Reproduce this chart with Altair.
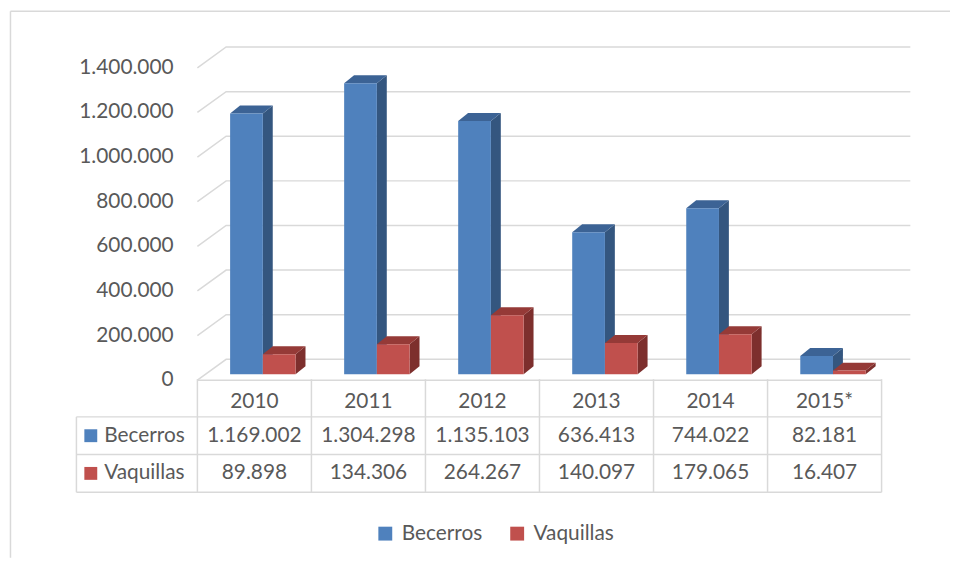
import altair as alt
import pandas as pd

# ---------------- data ----------------
years = ["2010", "2011", "2012", "2013", "2014", "2015*"]
becerros = [1169002, 1304298, 1135103, 636413, 744022, 82181]
vaquillas = [89898, 134306, 264267, 140097, 179065, 16407]
series = ["Becerros", "Vaquillas"]
y_ticks = [0, 200000, 400000, 600000, 800000, 1000000, 1200000, 1400000]


def fmt(n):
    return f"{n:,}".replace(",", ".")


# ---------------- style / layout constants ----------------
W, H = 950, 552
CAT_PX = 115.0              # px per category
CAT0_PX = 191.0             # view x of category 0 left edge
ZERO_PX = 373.0             # view y of value 0 (front plane)
PX_PER_UNIT = 225e-6        # px per head of cattle
ROW0_PX = 372.0             # view y of table top
ROW_PX = 38.0               # px per table row

X_DOM = [(0 - CAT0_PX) / CAT_PX, (W - CAT0_PX) / CAT_PX]
Y_DOM = [-(H - ZERO_PX) / PX_PER_UNIT, ZERO_PX / PX_PER_UNIT]
R_DOM = [(H - ROW0_PX) / ROW_PX, -ROW0_PX / ROW_PX]

WALL_DX = 29 / CAT_PX
WALL_DY = 21 / PX_PER_UNIT
BAR_BASE = 6 / PX_PER_UNIT
BAR_DX = 10 / CAT_PX
BAR_DY = 8 / PX_PER_UNIT
BAR_START = 33 / CAT_PX
BAR_W = 33 / CAT_PX

FONT = "Lato"
TXT = "#595959"
GRID = "#D9D9D9"
FRONT = ["#4F81BD", "#C0504D"]
SIDE = ["#34567F", "#7D2F2D"]
TOP = ["#3C6395", "#953A37"]

xs = alt.Scale(domain=X_DOM, nice=False, zero=False)
ys = alt.Scale(domain=Y_DOM, nice=False, zero=False)
rs = alt.Scale(domain=R_DOM, nice=False, zero=False)


def X(f):
    return alt.X(f, type="quantitative", scale=xs, axis=None)


def Y(f):
    return alt.Y(f, type="quantitative", scale=ys, axis=None, stack=None)


def R(f):
    return alt.Y(f, type="quantitative", scale=rs, axis=None)


def colour(rng, legend=None):
    return alt.Color("serie:N", scale=alt.Scale(domain=series, range=rng), legend=legend)


# ---------------- geometry from data ----------------
front_rows, side_rows, top_rows = [], [], []
for i, yr in enumerate(years):
    for s, (name, vals) in enumerate(zip(series, [becerros, vaquillas])):
        v = vals[i]
        bid = f"{yr}-{name}"
        x0 = i + BAR_START + s * BAR_W
        x1 = x0 + BAR_W
        lo, hi = BAR_BASE, BAR_BASE + v
        front_rows.append(dict(bar=bid, serie=name, x0=x0, x1=x1, lo=lo, hi=hi))
        side_rows += [
            dict(bar=bid, serie=name, u=x1, lo=lo, hi=hi),
            dict(bar=bid, serie=name, u=x1 + BAR_DX, lo=lo + BAR_DY, hi=hi + BAR_DY),
        ]
        top_rows += [
            dict(bar=bid, serie=name, u=x0, lo=hi, hi=hi),
            dict(bar=bid, serie=name, u=x0 + BAR_DX, lo=hi, hi=hi + BAR_DY),
            dict(bar=bid, serie=name, u=x1, lo=hi, hi=hi + BAR_DY),
            dict(bar=bid, serie=name, u=x1 + BAR_DX, lo=hi + BAR_DY, hi=hi + BAR_DY),
        ]
front_df = pd.DataFrame(front_rows)
side_df = pd.DataFrame(side_rows)
top_df = pd.DataFrame(top_rows)

grid_rows = []
n = len(years)
for t in y_ticks:
    grid_rows += [
        dict(t=t, u=0, v=t, o=0),
        dict(t=t, u=WALL_DX, v=t + WALL_DY, o=1),
        dict(t=t, u=n + WALL_DX, v=t + WALL_DY, o=2),
    ]
grid_df = pd.DataFrame(grid_rows)

ylab_df = pd.DataFrame(dict(v=y_ticks, label=[fmt(t) for t in y_ticks], u=-24 / CAT_PX))

# table
LEG_COL = -122 / CAT_PX
hdr_df = pd.DataFrame(dict(u=[i + 0.5 for i in range(n)], r=0.5, label=years))
val_rows = []
for s, (name, vals) in enumerate(zip(series, [becerros, vaquillas])):
    for i, v in enumerate(vals):
        val_rows.append(dict(u=i + 0.5, r=s + 1.5, label=fmt(v)))
val_df = pd.DataFrame(val_rows)
rowlab_df = pd.DataFrame(dict(serie=series, r=[1.5, 2.5], u=-94 / CAT_PX, us=-107.5 / CAT_PX))

vlines = pd.DataFrame(
    dict(u=[LEG_COL] + list(range(n + 1)), r0=[1] + [0] * (n + 1), r1=[3] * (n + 2))
)
hlines = pd.DataFrame(dict(r=[1, 2, 3], u0=LEG_COL, u1=n))
floor_df = pd.DataFrame(dict(u0=[0], u1=[n], v=[0]))

border_l = pd.DataFrame(dict(u=[(2.5 - CAT0_PX) / CAT_PX], v0=[Y_DOM[0]], v1=[(ZERO_PX - 1) / PX_PER_UNIT]))
border_t = pd.DataFrame(dict(u0=[(2.5 - CAT0_PX) / CAT_PX], u1=[X_DOM[1]], v=[(ZERO_PX - 1) / PX_PER_UNIT]))

# ---------------- layers ----------------
border_left = alt.Chart(border_l).mark_rule(color=GRID, strokeWidth=1.5).encode(
    x=X("u"), y=Y("v0"), y2="v1")
border_top = alt.Chart(border_t).mark_rule(color=GRID, strokeWidth=1.5).encode(
    x=X("u0"), x2="u1", y=Y("v"))

grid = alt.Chart(grid_df).mark_line(color=GRID, strokeWidth=1.5).encode(
    x=X("u"), y=Y("v"), detail="t:N", order="o:Q")

floor = alt.Chart(floor_df).mark_rule(color=GRID, strokeWidth=1.5).encode(
    x=X("u0"), x2="u1", y=Y("v"))

side = alt.Chart(side_df).mark_area(opacity=1, orient="vertical").encode(
    x=X("u"), y=Y("lo"), y2="hi", detail="bar:N", color=colour(SIDE))

top = alt.Chart(top_df).mark_area(opacity=1, orient="vertical").encode(
    x=X("u"), y=Y("lo"), y2="hi", detail="bar:N", color=colour(TOP))

legend = alt.Legend(
    orient="none", legendX=370, legendY=517, direction="horizontal", title=None,
    symbolType="square", symbolSize=196, symbolStrokeWidth=0, symbolOpacity=1,
    labelFontSize=21, labelFont=FONT, labelColor=TXT, labelOffset=6,
    columnPadding=24, padding=0,
)
front = alt.Chart(front_df).mark_rect(opacity=1).encode(
    x=X("x0"), x2="x1", y=Y("lo"), y2="hi", color=colour(FRONT, legend))

ylabels = alt.Chart(ylab_df).mark_text(
    align="right", baseline="middle", font=FONT, fontSize=21, color=TXT).encode(
    x=X("u"), y=Y("v"), text="label:N")

tv = alt.Chart(vlines).mark_rule(color=GRID, strokeWidth=1.5).encode(
    x=X("u"), y=R("r0"), y2="r1")
th = alt.Chart(hlines).mark_rule(color=GRID, strokeWidth=1.5).encode(
    x=X("u0"), x2="u1", y=R("r"))

hdr = alt.Chart(hdr_df).mark_text(
    align="center", baseline="middle", font=FONT, fontSize=21, color=TXT, dy=4).encode(
    x=X("u"), y=R("r"), text="label:N")
vals_t = alt.Chart(val_df).mark_text(
    align="center", baseline="middle", font=FONT, fontSize=21, color=TXT).encode(
    x=X("u"), y=R("r"), text="label:N")
rowlab = alt.Chart(rowlab_df).mark_text(
    align="left", baseline="middle", font=FONT, fontSize=21, color=TXT).encode(
    x=X("u"), y=R("r"), text="serie:N")
keys = alt.Chart(rowlab_df).mark_square(size=169, opacity=1).encode(
    x=X("us"), y=R("r"), color=colour(FRONT))

chart = alt.layer(
    border_left, border_top, grid, floor, side, top, front, ylabels,
    tv, th, hdr, vals_t, rowlab, keys,
).resolve_scale(y="independent", color="independent").properties(
    width=W, height=H, padding=0, autosize=alt.AutoSizeParams(type="none"),
    background="white",
).configure_view(stroke=None)

chart.save("out.html", embed_options={"renderer": "svg", "actions": False})
